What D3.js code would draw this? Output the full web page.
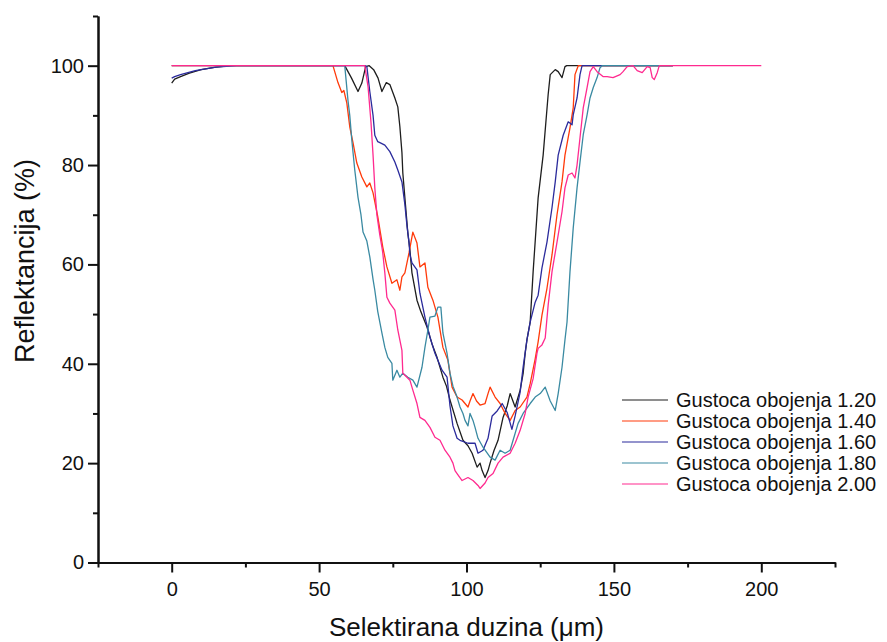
<!DOCTYPE html>
<html>
<head>
<meta charset="utf-8">
<script src="https://cdn.jsdelivr.net/npm/d3@7"></script>
<style>
  html, body { margin: 0; padding: 0; background: #fff; }
  svg { display: block; }
  text { font-family: "Liberation Sans", Arial, sans-serif; fill: #111; }
</style>
</head>
<body>
<svg id="chart" width="887" height="642"></svg>
<script>
// ---------- data ----------
const seriesNames = ["Gustoca obojenja 1.20", "Gustoca obojenja 1.40", "Gustoca obojenja 1.60", "Gustoca obojenja 1.80", "Gustoca obojenja 2.00"];
const seriesColors = ["#1e1e1e", "#ff3a0a", "#2b2b9c", "#3a8aa2", "#ff2a8f"];

const xMajorTicks = [0, 50, 100, 150, 200];
const xMinorTicks = [-25, 25, 75, 125, 175, 225];
const yMajorTicks = [0, 20, 40, 60, 80, 100];
const yMinorTicks = [10, 30, 50, 70, 90, 110];

const s120 = [[0,96.5],[1,97.3],[3,97.8],[6,98.5],[10,99.2],[15,99.7],[20,100],[58.7,100],[61,97.5],[63.2,94.8],[64.5,96.5],[65.8,99.8],[67,100],[68.5,99.2],[70,97.5],[71.3,94.8],[72.8,96.6],[74,96.2],[75.7,93.5],[76.7,91.7],[77.4,87.7],[78.1,82.5],[78.4,78.4],[79.3,72],[80.1,66.3],[80.8,62.9],[81.5,58.3],[83.2,52.8],[84.5,50.5],[86.6,47.4],[88.3,44],[90.0,41.3],[92.0,37.3],[93.2,35.5],[94.4,32.7],[96.8,28],[98.8,24.6],[100.5,23.5],[101.9,22],[103.6,19.2],[104.6,20],[105.3,18.5],[106.3,17.1],[107.3,18.5],[108.0,20],[109.3,22.5],[110.7,24.6],[112.4,29.2],[113.8,31.5],[114.8,34],[116.5,31.3],[118.2,34.7],[119.2,38],[119.9,42.1],[120.5,44.8],[121.6,48.4],[122.6,58.5],[124.3,73.4],[126.0,82],[127.7,94.2],[128.4,98.2],[130.1,99.2],[131.1,98.8],[132.4,97.6],[133.4,99.8],[134,100],[170,100]];

const s140 = [[0,100],[54.7,100],[56.4,96.6],[57.7,94.6],[58.4,95],[59.4,92.5],[60.4,87.7],[61.5,84.5],[62.8,80.4],[64.5,77.6],[66.2,75.6],[67.2,76.4],[68.3,74.4],[69.9,69.6],[71.6,63.5],[73.0,59.5],[74.7,56.2],[76.4,56.9],[77.4,54.8],[78.1,57.5],[79.1,58.3],[80.5,62.3],[81.8,66.5],[83.2,64.3],[84.2,59.5],[85.9,60.3],[86.9,55.4],[88.6,52.8],[90.3,49.4],[92.0,43.3],[93.7,40.7],[95.1,35.3],[96.8,33.3],[98.5,32.7],[100.5,31.3],[101.2,32.5],[102.2,34],[103.4,32.5],[104.6,31.7],[106.3,32],[107.3,34],[108.0,35.3],[109.7,33.3],[111.4,32],[113.1,30],[114.8,28.6],[116.5,30.6],[118.2,31.3],[120.5,33.3],[121.6,36],[123.3,41],[124.3,44.4],[125.6,49.8],[127.3,55.2],[129.0,61.9],[130.7,70],[132.4,76.6],[133.4,82],[135.1,87.5],[136.2,91.5],[136.8,98.2],[137.9,100],[170,100]];

const s160 = [[0,97.5],[1,97.8],[3,98.2],[8,99],[15,99.7],[22,100],[65.5,100],[66.2,99.8],[67.2,94.8],[68.3,90],[68.9,86],[69.9,84.7],[70.6,84.5],[72.3,84],[74.0,82.7],[75.7,80.6],[76.7,79],[78.1,76.6],[79.1,72],[79.8,67.8],[80.5,64.5],[80.8,62],[81.5,60.3],[83.2,58.9],[84.2,54.2],[85.9,49.4],[87.6,45.4],[89.3,42.1],[91.7,38.7],[93.4,37.3],[94.4,31.5],[95.4,27.5],[96.8,25],[97.8,24.6],[100.5,24],[102.9,24],[103.9,22],[105.6,22.6],[107.3,25],[108.7,29.5],[110.4,30.5],[112.1,32],[113.8,30.2],[115.4,26.8],[116.5,29.5],[118.2,34.3],[119.2,39.3],[120.5,44.8],[121.6,48.4],[123.3,52.4],[124.3,53.8],[125.6,59.3],[127.3,64.5],[129.0,71.4],[130.1,76.6],[131.1,82],[132.8,86],[134.5,88.7],[135.8,88.1],[136.2,90.1],[137.5,93.5],[138.5,98.2],[139.2,100],[170,100]];

const s180 = [[0,100],[58.7,100],[59.8,93],[60.4,90],[61.1,85],[62.1,79],[63.2,73.5],[64.2,70],[64.9,66.5],[66.2,64.7],[67.2,61.5],[68.3,57],[68.9,54.8],[69.9,50.5],[71.3,46.2],[72.3,43.3],[73.3,41.3],[74.7,40.1],[75.0,36.7],[76.4,38.7],[77.4,37.3],[78.4,38.1],[80.1,37.3],[81.8,36.7],[83.2,35.3],[84.9,39.3],[85.9,43.3],[86.9,46.8],[87.6,49.4],[89.3,49.6],[90.3,51.4],[91.3,51.4],[92.0,46.2],[93.4,42.1],[94.4,38.1],[95.4,35.5],[96.8,33.3],[97.8,31.3],[98.8,30],[99.5,28.6],[100.5,27.5],[101.2,30],[102.2,28.6],[102.9,27.2],[103.9,25],[105.6,23.2],[108.0,21.2],[109.7,20.6],[111.4,22.6],[113.1,22],[114.8,22.6],[115.8,24.6],[117.5,28],[119.2,30],[121.6,32],[123.3,33.3],[125.0,34],[126.7,35.3],[128.4,32.5],[130.1,30.6],[131.1,34],[132.4,39.3],[133.4,44.8],[134.1,48.4],[135.1,58.5],[136.2,67.3],[137.5,75.4],[138.5,80.6],[139.6,86.1],[140.9,90.1],[141.9,93.5],[143.0,95.6],[144.3,97.6],[145.3,99.6],[146.0,100],[170,100]];

const s200 = [[0,100],[65.5,100],[66.6,95.8],[67.6,88.6],[68.3,82],[68.9,75.4],[69.6,70],[70.6,65.9],[71.3,63.5],[71.6,62.3],[72.3,58.3],[73.0,53.4],[74.0,52.2],[75.7,50.8],[76.7,46.8],[78.1,42.7],[78.4,38.1],[79.8,37.3],[80.8,36.7],[81.8,34.7],[83.2,32],[84.2,29.2],[85.9,28.6],[87.6,27.2],[89.3,25.2],[91.0,24.6],[92.7,22.6],[94.4,21.2],[95.4,20],[96.1,18.5],[96.8,17.9],[98.5,16.5],[100.5,17.1],[102.2,16.5],[103.9,15.5],[104.6,14.9],[106.3,16],[107.3,17.1],[109.0,17.9],[110.7,20],[112.4,21.2],[114.8,22],[116.5,24],[118.2,26.6],[119.9,30],[120.9,33.3],[122.6,37],[123.9,42.1],[124.3,43.1],[125.6,43.8],[126.7,45.2],[127.7,51.8],[129.0,58.5],[130.7,64.5],[132.4,70.6],[133.4,75.4],[134.5,78],[135.8,78.4],[136.8,77.4],[137.5,80],[138.5,85.5],[139.6,91.5],[140.9,95.6],[141.9,98.8],[143.0,99.8],[144.3,98.8],[146.3,97.8],[147.7,97.8],[149.7,97.6],[152.1,98.2],[153.1,98.8],[154.5,99.8],[156.5,100],[157.9,99],[159.6,98.6],[161.3,99.8],[162.3,99.6],[163.0,97.6],[163.7,97.2],[164.7,98.6],[165.4,100],[200,100]];

const allSeries = [s120, s140, s160, s180, s200];

const xTitle = "Selektirana duzina (\u03bcm)";
const yTitle = "Reflektancija (%)";

// ---------- drawing ----------
const svg = d3.select("#chart");
const x = d3.scaleLinear().domain([-25, 225]).range([98, 835]);
const y = d3.scaleLinear().domain([0, 110]).range([562.5, 16]);

const line = d3.line().x(d => x(d[0])).y(d => y(d[1]));

const plot = svg.append("g");
allSeries.forEach((s, i) => {
  plot.append("path")
    .datum(s)
    .attr("fill", "none")
    .attr("stroke", seriesColors[i])
    .attr("stroke-width", 1.3)
    .attr("stroke-linejoin", "round")
    .attr("d", line);
});

// minor ticks
const yMinor = svg.append("g").attr("transform", `translate(${x(-25)},0)`)
  .call(d3.axisLeft(y).tickValues(yMinorTicks).tickSize(5).tickSizeOuter(0).tickFormat(""));
const xMinor = svg.append("g").attr("transform", `translate(0,${y(0)})`)
  .call(d3.axisBottom(x).tickValues(xMinorTicks).tickSize(5).tickSizeOuter(0).tickFormat(""));
// major ticks
const yAxis = svg.append("g").attr("transform", `translate(${x(-25)},0)`)
  .call(d3.axisLeft(y).tickValues(yMajorTicks).tickSize(10).tickSizeOuter(0).tickPadding(4));
const xAxis = svg.append("g").attr("transform", `translate(0,${y(0)})`)
  .call(d3.axisBottom(x).tickValues(xMajorTicks).tickSize(10).tickSizeOuter(0).tickPadding(9));

[yMinor, xMinor, yAxis, xAxis].forEach(g => {
  g.select(".domain").attr("stroke", "#111").attr("stroke-width", 2);
  g.selectAll(".tick line").attr("stroke", "#111").attr("stroke-width", 2);
  g.selectAll(".tick text").attr("font-size", 20).attr("fill", "#111")
    .attr("font-family", "'Liberation Sans', Arial, sans-serif");
});

// axis titles
svg.append("text")
  .attr("x", (x(-25) + x(225)) / 2)
  .attr("y", 636)
  .attr("text-anchor", "middle")
  .attr("font-size", 26)
  .text(xTitle);

svg.append("text")
  .attr("transform", "translate(34,261) rotate(-90)")
  .attr("text-anchor", "middle")
  .attr("font-size", 27)
  .text(yTitle);

// legend
const legend = svg.append("g");
seriesNames.forEach((name, i) => {
  const cy = 400 + i * 21;
  legend.append("line")
    .attr("x1", 622).attr("x2", 668)
    .attr("y1", cy).attr("y2", cy)
    .attr("stroke", seriesColors[i]).attr("stroke-width", 1.2);
  legend.append("text")
    .attr("x", 676).attr("y", cy)
    .attr("dy", "0.35em")
    .attr("font-size", 20)
    .text(name);
});
</script>
</body>
</html>
